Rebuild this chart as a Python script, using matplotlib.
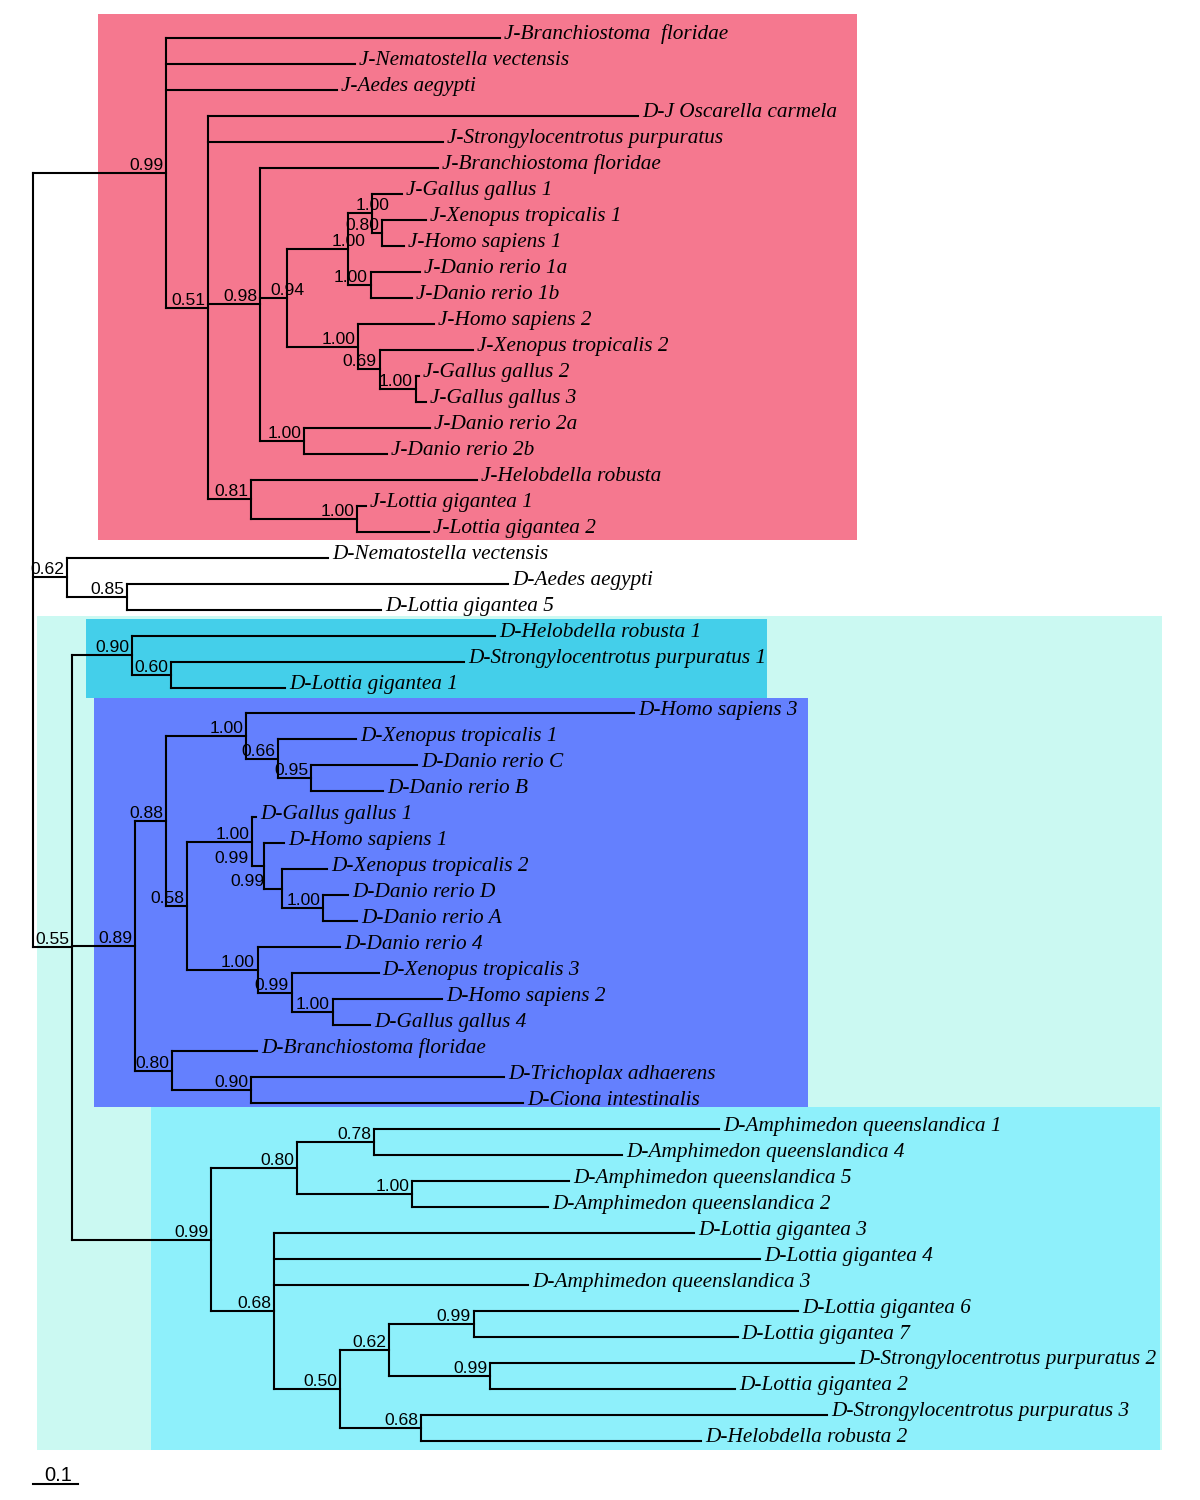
import matplotlib
matplotlib.use("Agg")
import matplotlib.pyplot as plt
from matplotlib.collections import LineCollection
from matplotlib.patches import Rectangle
from matplotlib.transforms import Affine2D, offset_copy

# tree data (Newick, branch lengths in substitutions/site, node labels = support)
J_CLADE = (
    "('J-Branchiostoma  floridae':0.742,'J-Nematostella vectensis':0.420,'J-Aedes aegypti':0.380,"
    "('D-J Oscarella carmela':0.956,'J-Strongylocentrotus purpuratus':0.522,"
    "('J-Branchiostoma floridae':0.396,"
    "((('J-Gallus gallus 1':0.067,('J-Xenopus tropicalis 1':0.098,'J-Homo sapiens 1':0.049)0.80:0.022)1.00:0.053,"
    "('J-Danio rerio 1a':0.111,'J-Danio rerio 1b':0.093)1.00:0.049)1.00:0.136,"
    "('J-Homo sapiens 2':0.169,('J-Xenopus tropicalis 2':0.207,"
    "('J-Gallus gallus 2':0.007,'J-Gallus gallus 3':0.024)1.00:0.080)0.69:0.047)1.00:0.158)0.94:0.060,"
    "('J-Danio rerio 2a':0.280,'J-Danio rerio 2b':0.184)1.00:0.098)0.98:0.116,"
    "('J-Helobdella robusta':0.502,('J-Lottia gigantea 1':0.018,'J-Lottia gigantea 2':0.158)1.00:0.236)0.81:0.096)0.51:0.093)0.99:0.296"
)
D_BASAL = (
    "('D-Nematostella vectensis':0.580,('D-Aedes aegypti':0.847,'D-Lottia gigantea 5':0.564)0.85:0.133)0.62:0.076"
)
D_MAIN = (
    "(('D-Helobdella robusta 1':0.807,('D-Strongylocentrotus purpuratus 1':0.651,'D-Lottia gigantea 1':0.253)0.60:0.087)0.90:0.133,"
    "((('D-Homo sapiens 3':0.862,('D-Xenopus tropicalis 1':0.173,('D-Danio rerio C':0.236,'D-Danio rerio B':0.160)0.95:0.073)0.66:0.071)1.00:0.178,"
    "(('D-Gallus gallus 1':0.009,('D-Homo sapiens 1':0.044,('D-Xenopus tropicalis 2':0.100,"
    "('D-Danio rerio D':0.056,'D-Danio rerio A':0.076)1.00:0.091)0.99:0.040)0.99:0.027)1.00:0.144,"
    "('D-Danio rerio 4':0.184,('D-Xenopus tropicalis 3':0.193,('D-Homo sapiens 2':0.244,'D-Gallus gallus 4':0.084)1.00:0.091)0.99:0.076)1.00:0.156)0.58:0.047)0.88:0.069,"
    "('D-Branchiostoma floridae':0.189,('D-Trichoplax adhaerens':0.562,'D-Ciona intestinalis':0.604)0.90:0.176)0.80:0.082)0.89:0.140,"
    "((('D-Amphimedon queenslandica 1':0.767,'D-Amphimedon queenslandica 4':0.551)0.78:0.171,"
    "('D-Amphimedon queenslandica 5':0.349,'D-Amphimedon queenslandica 2':0.302)1.00:0.256)0.80:0.191,"
    "('D-Lottia gigantea 3':0.933,'D-Lottia gigantea 4':1.080,'D-Amphimedon queenslandica 3':0.564,"
    "((('D-Lottia gigantea 6':0.722,'D-Lottia gigantea 7':0.587)0.99:0.187,"
    "('D-Strongylocentrotus purpuratus 2':0.809,'D-Lottia gigantea 2':0.544)0.99:0.224)0.62:0.109,"
    "('D-Strongylocentrotus purpuratus 3':0.902,'D-Helobdella robusta 2':0.622)0.68:0.180)0.50:0.147)0.68:0.140)0.99:0.309)0.55:0.087"
)
SCALE_LEN = 0.1

# highlight boxes (pixel extents: x0, y0, x1, y1) and colours
boxes = [
    ((37, 616, 1162, 1450), "#CBF9F2"),
    ((86, 619, 767, 698), "#44CFEA"),
    ((94, 698, 808, 1107), "#6480FE"),
    ((151, 1107, 1160, 1450), "#8EF0FB"),
    ((98, 14, 857, 540), "#F5788F"),
]

# support labels that sit off their usual spot (keyed by first leaf below node), px shift
label_nudge = {
    "J-Gallus gallus 1": 20,   # the 0.94 node
    "D-Homo sapiens 1": -13,
    "D-Xenopus tropicalis 2": -15,
}


def parse_newick(s):
    pos = 0

    def node():
        nonlocal pos
        n = {"children": [], "name": "", "length": 0.0}
        if s[pos] == "(":
            pos += 1
            while True:
                n["children"].append(node())
                if s[pos] == ",":
                    pos += 1
                else:
                    break
            pos += 1
        if s[pos] == "'":
            end = s.index("'", pos + 1)
            n["name"] = s[pos + 1:end]
            pos = end + 1
        else:
            start = pos
            while s[pos] not in ":,();":
                pos += 1
            n["name"] = s[start:pos]
        if s[pos] == ":":
            pos += 1
            start = pos
            while s[pos] not in ",();":
                pos += 1
            n["length"] = float(s[start:pos])
        return n

    return node()


tree = parse_newick("(" + J_CLADE + "," + D_BASAL + "," + D_MAIN + ");")

leaves = []


def layout(n, x0):
    n["x"] = x0 + n["length"]
    if not n["children"]:
        n["y"] = len(leaves)
        leaves.append(n)
    else:
        for c in n["children"]:
            layout(c, n["x"])
        n["y"] = (n["children"][0]["y"] + n["children"][-1]["y"]) / 2


layout(tree, 0.0)


def first_leaf(n):
    while n["children"]:
        n = n["children"][0]
    return n["name"]


fig = plt.figure(figsize=(12, 15), dpi=100)
ax = fig.add_axes([0, 0, 1, 1])
ax.set_xlim(-33 / 450, (1200 - 33) / 450)
ax.set_ylim((1500 - 38) / 25.98, -38 / 25.98)
ax.axis("off")

px = Affine2D().scale(1, -1).translate(0, 1500)
for (x0, y0, x1, y1), col in boxes:
    ax.add_patch(Rectangle((x0, y0), x1 - x0, y1 - y0, facecolor=col,
                           edgecolor="none", transform=px, zorder=0))

segs = []
internal = []


def collect(n):
    if n["children"]:
        segs.append([(n["x"], n["children"][0]["y"]), (n["x"], n["children"][-1]["y"])])
        for c in n["children"]:
            segs.append([(n["x"], c["y"]), (c["x"], c["y"])])
            collect(c)
        internal.append(n)


collect(tree)
ax.add_collection(LineCollection(segs, colors="black", linewidths=1.5,
                                 capstyle="projecting", zorder=2))

leaf_tr = offset_copy(ax.transData, fig=fig, x=4, y=-1.5, units="dots")
for lf in leaves:
    ax.text(lf["x"], lf["y"], lf["name"], transform=leaf_tr, ha="left", va="baseline",
            fontsize=15.3, family="Liberation Serif", style="italic", zorder=3)

for n in internal:
    if n["name"]:
        dx = -3 + label_nudge.get(first_leaf(n), 0)
        tr = offset_copy(ax.transData, fig=fig, x=dx, y=3, units="dots")
        ax.text(n["x"], n["y"], n["name"], transform=tr, ha="right", va="baseline",
                fontsize=12.6, family="Liberation Sans", zorder=3)

sy = len(leaves) + 0.66
ax.plot([0, SCALE_LEN], [sy, sy], color="black", lw=1.5)
ax.text(SCALE_LEN / 2 + 0.005, sy, "0.1", transform=offset_copy(ax.transData, fig=fig, y=3, units="dots"),
        ha="center", va="baseline", fontsize=14.5, family="Liberation Sans")

fig.savefig("out.png", dpi=100)
